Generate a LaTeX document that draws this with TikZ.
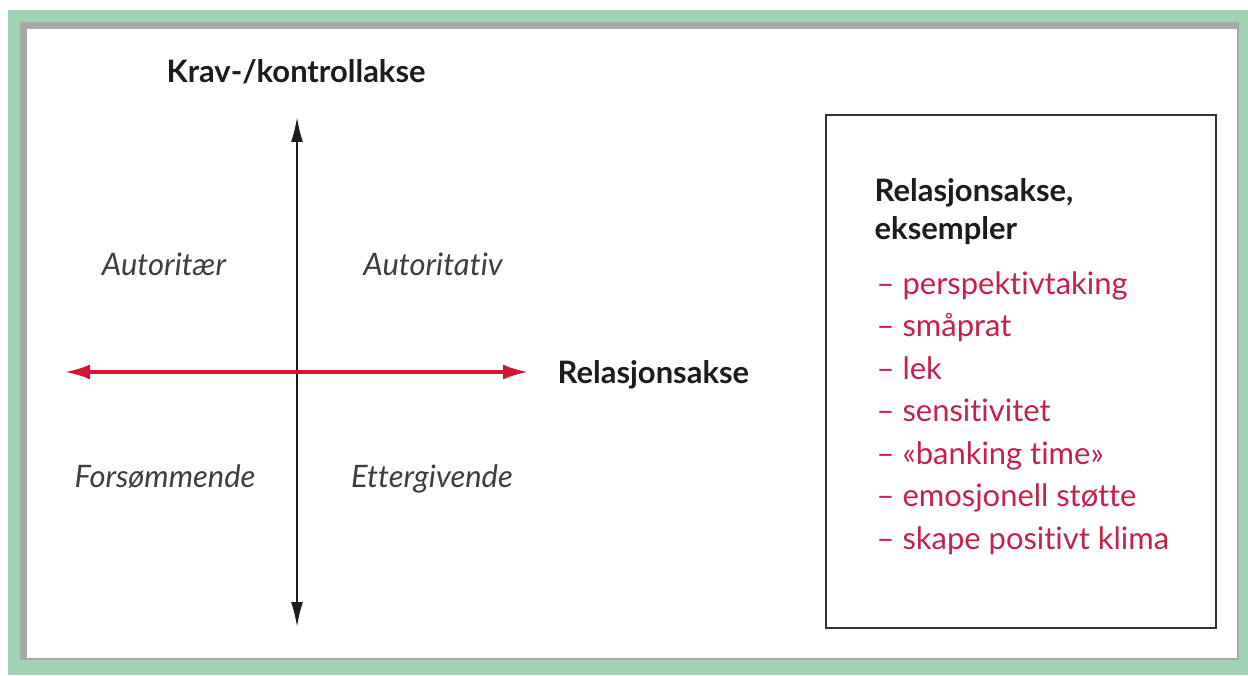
\documentclass[tikz,border=0pt]{standalone}
\usepackage{fontspec}
\setmainfont{Lato}[Ligatures=NoCommon]
\usepackage{tikz}
\usetikzlibrary{arrows.meta}
\definecolor{framegreen}{RGB}{160,211,180}
\definecolor{framegrey}{RGB}{168,168,168}
\definecolor{axisred}{RGB}{208,22,52}
\definecolor{listred}{RGB}{196,34,72}
\definecolor{inkgrey}{RGB}{28,28,28}

\begin{document}
\begin{tikzpicture}[
  head/.style={font=\fontsize{8.8}{10}\bfseries\selectfont,text=inkgrey,inner sep=0pt},
  style4/.style={font=\fontsize{8.8}{10}\itshape\selectfont,text=inkgrey!85,inner sep=0pt},
  item/.style={font=\fontsize{8.8}{10}\selectfont,text=listred,inner sep=0pt,anchor=base west}
]
\useasboundingbox (0,0) rectangle (12.48,6.75);
\fill[framegreen] (0.08,0) rectangle (12.48,6.65);
\fill[framegrey] (0.20,0.15) rectangle (12.39,6.53);
\fill[white] (0.27,0.17) rectangle (12.37,6.46);

\coordinate (ktop) at (2.97,5.58);
\coordinate (kbot) at (2.97,0.48);
\coordinate (rleft) at (0.65,3.03);
\coordinate (rright) at (5.28,3.03);

\draw[line width=0.6pt,inkgrey,{Latex[length=2.5mm,width=1.2mm]}-{Latex[length=2.5mm,width=1.2mm]}] (kbot)--(ktop);
\draw[line width=0.9pt,axisred,{Latex[length=2.5mm,width=1.5mm]}-{Latex[length=2.5mm,width=1.5mm]}] (rleft)--(rright);

\node[head,anchor=base] (krav) at (2.96,5.92) {Krav-/kontrollakse};
\node[head,anchor=base west] (rel) at (5.57,2.92) {Relasjonsakse};

\node[style4,anchor=base] (q1) at (1.64,3.99) {Autoritær};
\node[style4,anchor=base] (q2) at (4.33,3.99) {Autoritativ};
\node[style4,anchor=base] (q3) at (1.65,1.88) {Forsømmende};
\node[style4,anchor=base] (q4) at (4.32,1.88) {Ettergivende};

\draw[line width=0.6pt,inkgrey!90] (8.26,0.47) rectangle (12.16,5.60);
\node[head,anchor=base west] (ex1) at (8.74,4.73) {Relasjonsakse,};
\node[head,anchor=base west] (ex2) at (8.74,4.35) {eksempler};

\node[item] (e1) at (8.76,3.81) {– perspektivtaking};
\node[item] (e2) at (8.76,3.385) {– småprat};
\node[item] (e3) at (8.76,2.96) {– lek};
\node[item] (e4) at (8.76,2.535) {– sensitivitet};
\node[item] (e5) at (8.76,2.11) {– «banking time»};
\node[item] (e6) at (8.76,1.685) {– emosjonell støtte};
\node[item] (e7) at (8.76,1.26) {– skape positivt klima};
\end{tikzpicture}
\end{document}
